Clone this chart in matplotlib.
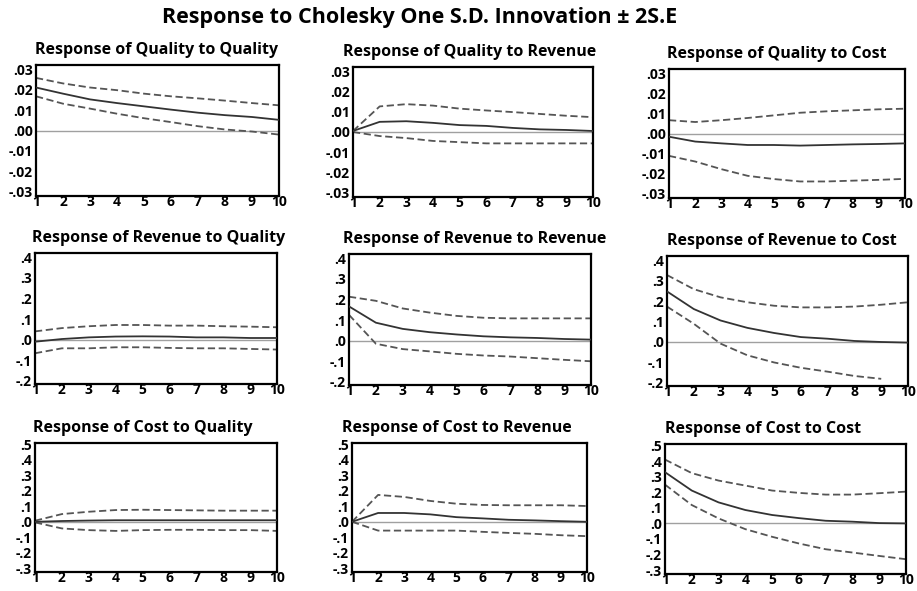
import numpy as np
import matplotlib
matplotlib.use("Agg")
import matplotlib.pyplot as plt

plt.rcParams['font.family'] = ['Open Sans', 'DejaVu Sans']

periods = list(range(1, 11))

titles = [
    "Response of Quality to Quality", "Response of Quality to Revenue", "Response of Quality to Cost",
    "Response of Revenue to Quality", "Response of Revenue to Revenue", "Response of Revenue to Cost",
    "Response of Cost to Quality", "Response of Cost to Revenue", "Response of Cost to Cost",
]

# Quality row
q_q_resp = [0.021, 0.018, 0.0152, 0.0134, 0.0118, 0.0102, 0.0087, 0.0075, 0.0066, 0.0052]
q_q_up = [0.0257, 0.023, 0.021, 0.0197, 0.018, 0.0167, 0.0157, 0.0146, 0.0134, 0.0123]
q_q_lo = [0.0167, 0.0131, 0.0107, 0.0082, 0.006, 0.0041, 0.0021, 0.0005, -0.0005, -0.002]

q_r_resp = [0.0005, 0.005, 0.0053, 0.0045, 0.0034, 0.003, 0.002, 0.0013, 0.001, 0.0005]
q_r_up = [0.0005, 0.0126, 0.0137, 0.013, 0.0115, 0.0106, 0.0098, 0.0089, 0.008, 0.0073]
q_r_lo = [0.0, -0.002, -0.003, -0.0044, -0.005, -0.0056, -0.0056, -0.0056, -0.0056, -0.0056]

q_c_resp = [-0.0016, -0.004, -0.0049, -0.0057, -0.0057, -0.006, -0.0057, -0.0054, -0.0052, -0.0049]
q_c_up = [0.0066, 0.0057, 0.0066, 0.0077, 0.009, 0.0103, 0.011, 0.0115, 0.012, 0.0123]
q_c_lo = [-0.0111, -0.0139, -0.0177, -0.021, -0.0226, -0.0238, -0.0238, -0.0234, -0.023, -0.0225]

# Revenue row
r_q_resp = [-0.01, 0.003, 0.011, 0.015, 0.016, 0.015, 0.011, 0.011, 0.008, 0.008]
r_q_up = [0.04, 0.056, 0.065, 0.071, 0.071, 0.068, 0.068, 0.065, 0.063, 0.06]
r_q_lo = [-0.066, -0.042, -0.042, -0.037, -0.037, -0.04, -0.042, -0.042, -0.045, -0.048]

r_r_resp = [0.166, 0.087, 0.057, 0.041, 0.03, 0.021, 0.016, 0.013, 0.008, 0.005]
r_r_up = [0.213, 0.193, 0.156, 0.136, 0.12, 0.111, 0.108, 0.108, 0.108, 0.108]
r_r_lo = [0.125, -0.015, -0.041, -0.052, -0.064, -0.072, -0.077, -0.085, -0.093, -0.1]

r_c_resp = [0.247, 0.161, 0.105, 0.069, 0.044, 0.024, 0.016, 0.005, 0.0, -0.003]
r_c_up = [0.327, 0.258, 0.218, 0.194, 0.177, 0.169, 0.169, 0.173, 0.182, 0.194]
r_c_lo = [0.173, 0.089, -0.008, -0.065, -0.1, -0.126, -0.145, -0.166, -0.18, np.nan]

# Cost row
c_q_resp = [0.0, 0.005, 0.008, 0.01, 0.01, 0.01, 0.01, 0.01, 0.01, 0.01]
c_q_up = [0.007, 0.05, 0.065, 0.076, 0.078, 0.076, 0.074, 0.072, 0.072, 0.072]
c_q_lo = [-0.004, -0.043, -0.054, -0.059, -0.054, -0.052, -0.052, -0.054, -0.054, -0.059]

c_r_resp = [0.0, 0.057, 0.057, 0.048, 0.03, 0.022, 0.013, 0.009, 0.004, 0.0]
c_r_up = [0.0, 0.174, 0.161, 0.135, 0.117, 0.109, 0.107, 0.107, 0.107, 0.102]
c_r_lo = [0.0, -0.057, -0.057, -0.057, -0.057, -0.065, -0.072, -0.078, -0.087, -0.093]

c_c_resp = [0.329, 0.211, 0.135, 0.086, 0.054, 0.034, 0.017, 0.011, 0.002, 0.0]
c_c_up = [0.41, 0.323, 0.275, 0.243, 0.211, 0.196, 0.185, 0.185, 0.194, 0.204]
c_c_lo = [0.249, 0.118, 0.032, -0.037, -0.086, -0.129, -0.166, -0.187, -0.209, -0.23]

responses = [q_q_resp, q_r_resp, q_c_resp, r_q_resp, r_r_resp, r_c_resp, c_q_resp, c_r_resp, c_c_resp]
uppers = [q_q_up, q_r_up, q_c_up, r_q_up, r_r_up, r_c_up, c_q_up, c_r_up, c_c_up]
lowers = [q_q_lo, q_r_lo, q_c_lo, r_q_lo, r_r_lo, r_c_lo, c_q_lo, c_r_lo, c_c_lo]

ticks_q = [-0.03, -0.02, -0.01, 0.0, 0.01, 0.02, 0.03]
labels_q = ["-.03", "-.02", "-.01", ".00", ".01", ".02", ".03"]
ticks_r = [-0.2, -0.1, 0.0, 0.1, 0.2, 0.3, 0.4]
labels_r = ["-.2", "-.1", ".0", ".1", ".2", ".3", ".4"]
ticks_c = [-0.3, -0.2, -0.1, 0.0, 0.1, 0.2, 0.3, 0.4, 0.5]
labels_c = ["-.3", "-.2", "-.1", ".0", ".1", ".2", ".3", ".4", ".5"]

W, H = 917, 591
fig = plt.figure(figsize=(W / 100, H / 100), dpi=100)
fig.patch.set_facecolor("white")

# axes boxes in pixels: left, top, right, bottom
boxes = [
    (36, 65, 279, 196), (353, 67, 593, 197), (669, 69, 905, 198),
    (35, 253, 277, 384), (349, 254, 591, 385), (667, 256, 908, 386),
    (35, 443, 277, 572), (352, 443, 587, 572), (665, 444, 906, 574),
]
title_x = [35, 343, 667, 32, 343, 667, 33, 342, 665]
row_ylims = [(-0.032, 0.032), (-0.215, 0.42), (-0.325, 0.51)]
row_ticks = [(ticks_q, labels_q), (ticks_r, labels_r), (ticks_c, labels_c)]

for i in range(9):
    l, t, r, b = boxes[i]
    ax = fig.add_axes([l / W, 1 - b / H, (r - l) / W, (b - t) / H])
    row = i // 3
    ax.axhline(0, color="#a0a0a0", lw=1.0, zorder=1)
    ax.plot(periods, uppers[i], color="#555555", lw=1.3, ls=(0, (4, 2)), zorder=2)
    ax.plot(periods, lowers[i], color="#555555", lw=1.3, ls=(0, (4, 2)), zorder=2)
    ax.plot(periods, responses[i], color="#333333", lw=1.3, zorder=3)
    ax.set_xlim(1, 10)
    ax.set_ylim(*row_ylims[row])
    ax.set_xticks(periods)
    ax.set_xticklabels([str(p) for p in periods], fontsize=10, fontweight="bold")
    tk, lb = row_ticks[row]
    ax.set_yticks(tk)
    ax.set_yticklabels(lb, fontsize=10, fontweight="bold")
    ax.tick_params(length=0, pad=2)
    ax.tick_params(axis="x", pad=-1)
    for s in ax.spines.values():
        s.set_linewidth(1.6)
        s.set_color("black")
    fig.text(title_x[i] / W, 1 - (t - 15) / H, titles[i], ha="left", va="center",
             fontsize=11.5, fontweight="bold")

fig.text(420 / W, 1 - 17 / H, "Response to Cholesky One S.D. Innovation ± 2S.E",
         ha="center", va="center", fontsize=15.5, fontweight="bold")

fig.savefig("out.png", dpi=100, facecolor="white")
